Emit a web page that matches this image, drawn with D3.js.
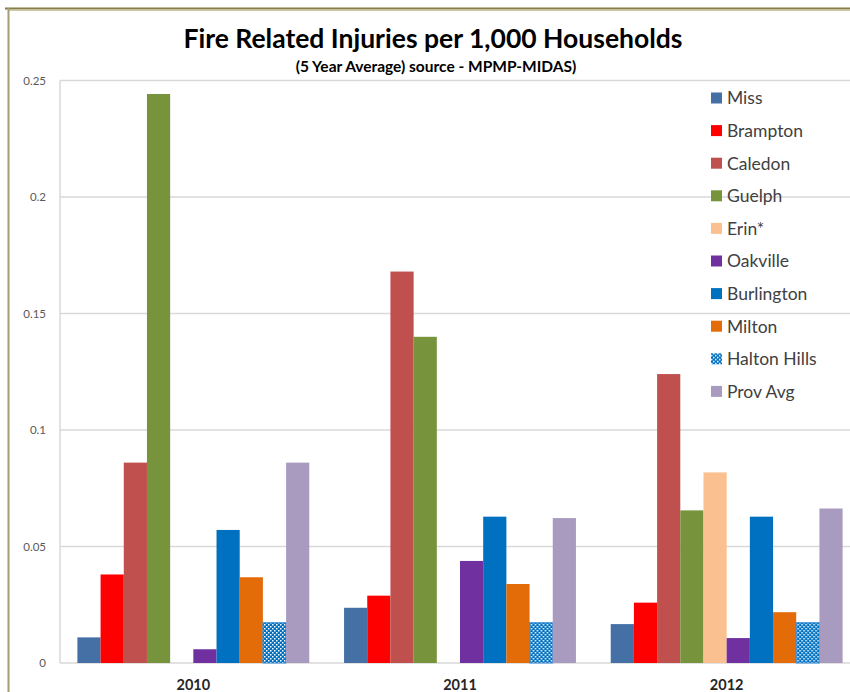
<!DOCTYPE html>
<html>
<head>
<meta charset="utf-8">
<script src="https://cdn.jsdelivr.net/npm/d3@7"></script>
<style>
  html, body { margin: 0; padding: 0; background: #fff; }
  svg { display: block; }
  text { font-family: Lato, "Open Sans", sans-serif; }
</style>
</head>
<body>
<svg id="chart" width="850" height="692"></svg>
<script>
// Fire related injuries per 1,000 households (5 year average)
const years = ["2010", "2011", "2012"];
const series = ["Miss", "Brampton", "Caledon", "Guelph", "Erin*", "Oakville",
                "Burlington", "Milton", "Halton Hills", "Prov Avg"];
const colors = ["#4470A6", "#FF0000", "#C0504D", "#77933C", "#FAC090", "#7030A0",
                "#0070C0", "#E36C09", "url(#haltonDots)", "#A99BC0"];
// values per series, ordered 2010, 2011, 2012 (null = no data)
const values = {
  "Miss":         [0.011, 0.0237, 0.0167],
  "Brampton":     [0.038, 0.0289, 0.0259],
  "Caledon":      [0.086, 0.168, 0.124],
  "Guelph":       [0.2442, 0.140, 0.0655],
  "Erin*":        [null, null, 0.0818],
  "Oakville":     [0.0059, 0.0438, 0.0107],
  "Burlington":   [0.0571, 0.0628, 0.0628],
  "Milton":       [0.0368, 0.0339, 0.0218],
  "Halton Hills": [0.0173, 0.0173, 0.0173],
  "Prov Avg":     [0.086, 0.0622, 0.0663]
};
const yTicks = [0, 0.05, 0.1, 0.15, 0.2, 0.25];
const yTickLabels = ["0", "0.05", "0.1", "0.15", "0.2", "0.25"];

const svg = d3.select("#chart");

// dotted fill for Halton Hills
const defs = svg.append("defs");
const pat = defs.append("pattern")
  .attr("id", "haltonDots")
  .attr("patternUnits", "userSpaceOnUse")
  .attr("width", 4).attr("height", 4);
pat.append("rect").attr("width", 4).attr("height", 4).attr("fill", "#0070C0");
pat.append("rect").attr("x", 0).attr("y", 0).attr("width", 1.5).attr("height", 1.5).attr("fill", "#ffffff");
pat.append("rect").attr("x", 2).attr("y", 2).attr("width", 1.5).attr("height", 1.5).attr("fill", "#ffffff");

// frame lines along top and left
svg.append("line").attr("x1", 5).attr("x2", 850).attr("y1", 8.5).attr("y2", 8.5)
  .attr("stroke", "#857B45").attr("stroke-width", 2);
svg.append("line").attr("x1", 8).attr("x2", 850).attr("y1", 10.5).attr("y2", 10.5)
  .attr("stroke", "#CFC9A8").attr("stroke-width", 1);
svg.append("line").attr("x1", 8.5).attr("x2", 8.5).attr("y1", 8).attr("y2", 692)
  .attr("stroke", "#A69C75").attr("stroke-width", 2);

const plotLeft = 60, plotRight = 860, plotTop = 80.5, plotBottom = 663;

const y = d3.scaleLinear().domain([0, 0.25]).range([plotBottom, plotTop]);
const x0 = d3.scaleBand().domain(years).range([plotLeft, plotRight]).padding(0);
const x1 = d3.scaleBand().domain(series).range([0, x0.bandwidth()])
  .paddingInner(0).paddingOuter(0.75);

// y axis labels
const yAxis = d3.axisLeft(y).tickValues(yTicks)
  .tickFormat((d, i) => yTickLabels[i]).tickSize(0).tickPadding(14);
const gy = svg.append("g").attr("transform", `translate(${plotLeft},0)`).call(yAxis);
gy.select(".domain").remove();
gy.selectAll("text").attr("fill", "#595959").style("font-size", "11.5px")
  .style("font-family", "Lato, 'Open Sans', sans-serif");

// gridlines
svg.append("g").selectAll("line").data(yTicks).join("line")
  .attr("x1", plotLeft).attr("x2", 850)
  .attr("y1", d => y(d)).attr("y2", d => y(d))
  .attr("stroke", "#D9D9D9").attr("stroke-width", 1.5);
svg.append("line").attr("x1", plotLeft).attr("x2", plotLeft)
  .attr("y1", plotTop).attr("y2", plotBottom)
  .attr("stroke", "#D9D9D9").attr("stroke-width", 1.5);

// bars
const groups = svg.append("g").selectAll("g").data(years).join("g")
  .attr("transform", d => `translate(${x0(d)},0)`);
groups.selectAll("rect")
  .data((yr, yi) => series.map((s, si) => ({ s, si, v: values[s][yi] }))
    .filter(d => d.v != null))
  .join("rect")
  .attr("x", d => x1(d.s))
  .attr("width", x1.bandwidth())
  .attr("y", d => y(d.v))
  .attr("height", d => y(0) - y(d.v))
  .attr("fill", d => colors[d.si])
  .attr("stroke", d => d.s === "Halton Hills" ? "#3C8FD6" : "none")
  .attr("stroke-width", 1);

// x axis labels
const xAxis = d3.axisBottom(x0).tickSize(0).tickPadding(17);
const gx = svg.append("g").attr("transform", `translate(0,${plotBottom})`).call(xAxis);
gx.select(".domain").remove();
gx.selectAll("text").attr("fill", "#262626").style("font-size", "14.5px")
  .style("font-weight", "bold").style("font-family", "Lato, 'Open Sans', sans-serif");

// titles
svg.append("text").attr("x", 433).attr("y", 48).attr("text-anchor", "middle")
  .attr("fill", "#000").style("font-size", "26.5px").style("font-weight", "bold")
  .text("Fire Related Injuries per 1,000 Households");
svg.append("text").attr("x", 436).attr("y", 72).attr("text-anchor", "middle")
  .attr("fill", "#000").style("font-size", "15.5px").style("font-weight", "bold")
  .text("(5 Year Average) source - MPMP-MIDAS)");

// legend
const legend = svg.append("g").selectAll("g").data(series).join("g")
  .attr("transform", (d, i) => `translate(711,${98 + i * 32.6})`);
legend.append("rect").attr("x", 0).attr("y", -5.5).attr("width", 11).attr("height", 11)
  .attr("fill", (d, i) => colors[i]);
legend.append("text").attr("x", 16).attr("y", 0).attr("dy", "0.36em")
  .attr("fill", "#404040").style("font-size", "17.5px")
  .text(d => d);
</script>
</body>
</html>
